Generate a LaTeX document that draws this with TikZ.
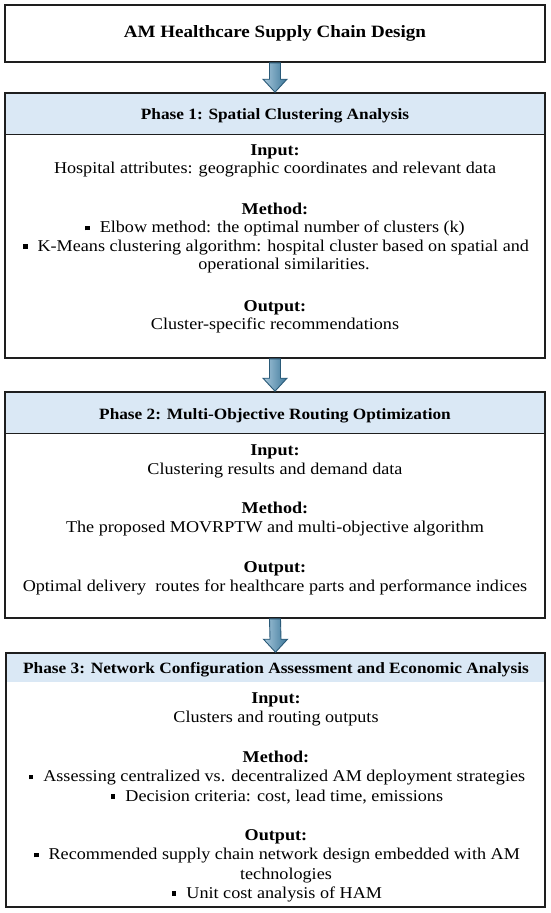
\documentclass[tikz,border=0pt]{standalone}
\usepackage{fontspec}
\setmainfont{Liberation Serif}[FakeStretch=1.1]
\usetikzlibrary{calc}
\definecolor{boxc}{HTML}{1E1E1E}
\definecolor{hdr}{HTML}{DAE8F5}
\definecolor{arrL}{HTML}{A8C8DC}
\definecolor{arrR}{HTML}{3C7799}
\definecolor{arrD}{HTML}{2A5A78}
\newcommand\sqb{\rule[2.2pt]{4.5pt}{4.5pt}\hspace{10pt}}
\newcommand\flowarrow[2]{%
  \draw[arrowfill] ($(#1.south)+(-5.5,0)$) -- ($(#2.north)+(-5.5,-13)$) -- ($(#2.north)+(-12,-13)$) -- (#2.north) -- ($(#2.north)+(12,-13)$) -- ($(#2.north)+(5.5,-13)$) -- ($(#1.south)+(5.5,0)$) -- cycle;}
\begin{document}
\begin{tikzpicture}[x=1pt,y=-1pt,
  outer/.style={draw=boxc, line width=1.6pt, inner sep=0pt, minimum width=540pt},
  hdrfill/.style={fill=hdr, inner sep=0pt, minimum width=540pt},
  sep/.style={draw=boxc, line width=0.9pt},
  arrowfill/.style={left color=arrL, right color=arrR, draw=arrD, line width=0.9pt, line join=miter},
  body/.style={font=\fontsize{16.5}{19}\selectfont, anchor=base, inner sep=0pt},
  lab/.style={body, font=\fontsize{16.5}{19}\selectfont\bfseries},
  headtxt/.style={body, font=\fontsize{15.7}{19}\selectfont\bfseries},
  titletxt/.style={font=\fontsize{17.3}{22}\selectfont\bfseries}
]
\useasboundingbox (0,0) rectangle (550,913);
% title
\node[outer, minimum height=57pt, titletxt] (title) at (275,33.5) {AM Healthcare Supply Chain Design};
% phase 1
\node[hdrfill, minimum height=41pt] (p1h) at (275,113.5) {};
\draw[sep] (p1h.south west) -- (p1h.south east);
\node[outer, minimum height=265pt] (p1) at (275,225.5) {};
\node[headtxt] (p1t) at (275,119) {Phase 1: Spatial Clustering Analysis};
\node[lab] (p1in) at (275,155) {Input:};
\node[body] (p1ina) at (275,173) {Hospital attributes: geographic coordinates and relevant data};
\node[lab] (p1me) at (275,214) {Method:};
\node[body] (p1mea) at (275,232.5) {\sqb Elbow method: the optimal number of clusters (k)};
\node[body] (p1meb) at (276,251) {\sqb K-Means clustering algorithm: hospital cluster based on spatial and};
\node[body] (p1mec) at (284,269.5) {operational similarities.};
\node[lab] (p1out) at (275,311) {Output:};
\node[body] (p1outa) at (275,329.5) {Cluster-specific recommendations};
% phase 2
\node[hdrfill, minimum height=41pt] (p2h) at (275,412.5) {};
\draw[sep] (p2h.south west) -- (p2h.south east);
\node[outer, minimum height=226pt] (p2) at (275,505) {};
\node[headtxt] (p2t) at (275,419) {Phase 2: Multi-Objective Routing Optimization};
\node[lab] (p2in) at (275,455) {Input:};
\node[body] (p2ina) at (275,474) {Clustering results and demand data};
\node[lab] (p2me) at (275,513) {Method:};
\node[body] (p2mea) at (275,532) {The proposed MOVRPTW and multi-objective algorithm};
\node[lab] (p2out) at (275,572) {Output:};
\node[body] (p2outa) at (275,591) {Optimal delivery\ \ routes for healthcare parts and performance indices};
% phase 3
\node[hdrfill, minimum width=538pt, minimum height=29pt] (p3h) at (275.5,667.5) {};
\node[outer, minimum width=539pt, minimum height=254pt] (p3) at (275.5,780) {};
\node[headtxt] (p3t) at (276,673) {Phase 3: Network Configuration Assessment and Economic Analysis};
\node[lab] (p3in) at (276,703) {Input:};
\node[body] (p3ina) at (276,722.5) {Clusters and routing outputs};
\node[lab] (p3me) at (276,762) {Method:};
\node[body] (p3mea) at (277,781.5) {\sqb Assessing centralized vs. decentralized AM deployment strategies};
\node[body] (p3meb) at (277,801) {\sqb Decision criteria: cost, lead time, emissions};
\node[lab] (p3out) at (276,840) {Output:};
\node[body] (p3outa) at (277,859.5) {\sqb Recommended supply chain network design embedded with AM};
\node[body] (p3outb) at (286,879) {technologies};
\node[body] (p3outc) at (277,898) {\sqb Unit cost analysis of HAM};
% arrows
\flowarrow{title}{p1}
\flowarrow{p1}{p2}
\flowarrow{p2}{p3}
\end{tikzpicture}
\end{document}
